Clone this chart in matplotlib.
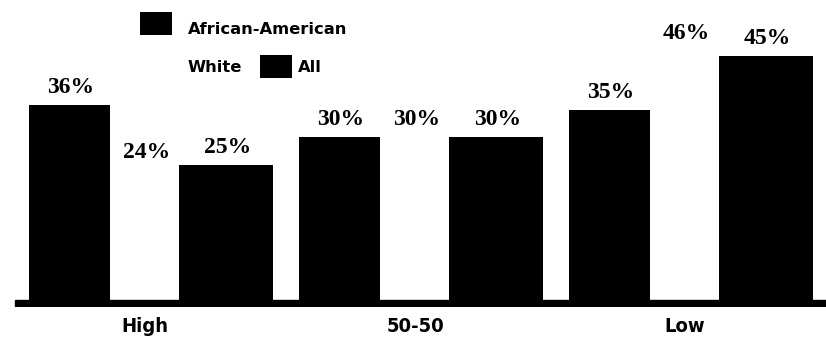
import matplotlib
matplotlib.use("Agg")
import matplotlib.pyplot as plt
from matplotlib.patches import Rectangle

categories = ["High", "50-50", "Low"]
series_names = ["African-American", "White", "All"]
african_american = [36, 30, 35]
white = [24, 30, 46]
all_groups = [25, 30, 45]

W, H, DPI = 826, 343, 100
fig = plt.figure(figsize=(W / DPI, H / DPI), dpi=DPI)
fig.patch.set_facecolor("white")

# main axes: value 0 sits on top of the thick baseline band
px_per_unit = 5.42
base_px = 300
band_px = 7
ax = fig.add_axes([0, (H - base_px - band_px) / H, 1, (base_px + band_px) / H])
ax.set_xlim(-145 / 270, (W - 145) / 270)
ax.set_ylim(-band_px / px_per_unit, base_px / px_per_unit)
for s in ax.spines.values():
    s.set_visible(False)
ax.set_yticks([])

x = list(range(len(categories)))
layout = [  # (offset, width, color)
    (-0.28, 0.30, "black"),
    (0.0, 0.25, "white"),
    (0.30, 0.345, "black"),
]
values = [african_american, white, all_groups]

label_font = dict(family="Liberation Serif", fontweight="bold", fontsize=17)
for (off, wd, col), vals in zip(layout, values):
    xs = [xi + off for xi in x]
    ax.bar(xs, vals, width=wd, color=col, edgecolor="none", zorder=2)
    for xi, v in zip(xs, vals):
        ax.annotate(f"{v}%", (xi, v), xytext=(1, 5), textcoords="offset points",
                    ha="center", va="bottom", **label_font)

# baseline band
ax.axhspan(-band_px / px_per_unit, 0, xmin=15 / W, xmax=1, color="black", zorder=3)

ax.set_xticks(x)
ax.set_xticklabels(categories, fontsize=14.5, fontweight="bold",
                   family="DejaVu Sans", fontstretch="condensed")
ax.tick_params(axis="x", length=0, pad=7)

# legend drawn in pixel space
lg = fig.add_axes([0, 0, 1, 1])
lg.set_xlim(0, W)
lg.set_ylim(H, 0)
lg.axis("off")
lg.patch.set_alpha(0)
leg_font = dict(family="DejaVu Sans", fontweight="bold", fontsize=11.8, va="center", ha="left")
lg.add_patch(Rectangle((140, 12), 32, 23, facecolor="black", edgecolor="none"))
lg.text(188, 29, series_names[0], **leg_font)
lg.add_patch(Rectangle((140, 56), 32, 22, facecolor="white", edgecolor="none"))
lg.text(188, 68, series_names[1], **leg_font)
lg.add_patch(Rectangle((260, 55), 32, 23, facecolor="black", edgecolor="none"))
lg.text(298, 67, series_names[2], **leg_font)

fig.savefig("out.png", dpi=DPI)
